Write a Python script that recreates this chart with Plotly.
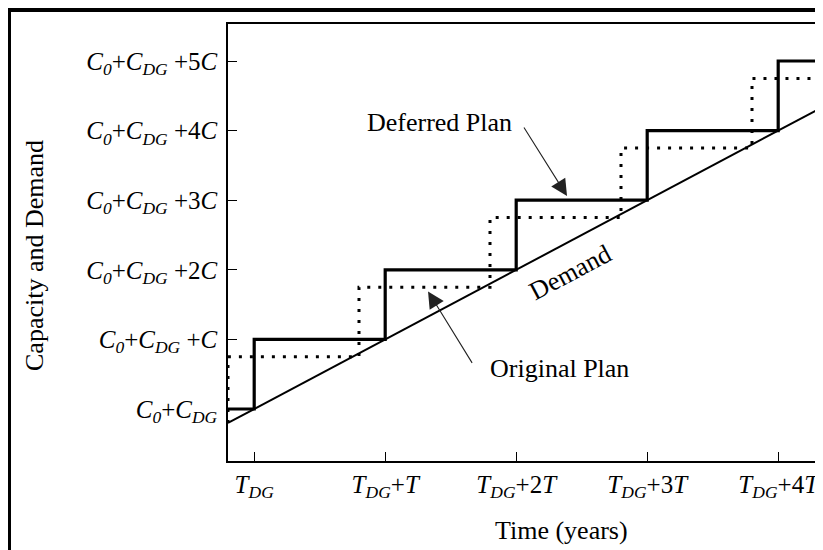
import plotly.graph_objects as go

# ---- data (x in units of T, y in units of C above C0+CDG) ----
demand_x = [0.0, 4.7]
demand_y = [-0.2, 4.5]

deferred_x = [0.0, 0.2, 1.2, 2.2, 3.2, 4.2, 4.7]
deferred_y = [0.0, 1.0, 2.0, 3.0, 4.0, 5.0, 5.0]

original_x = [0.0, 0.0, 1.0, 2.0, 3.0, 4.0, 4.7]
original_y = [-0.2, 0.75, 1.75, 2.75, 3.75, 4.75, 4.75]

x_tickvals = [0.2, 1.2, 2.2, 3.2, 4.2]
x_ticktext = ["<i>T</i><sub><i>DG</i></sub>",
              "<i>T</i><sub><i>DG</i></sub>+<i>T</i>",
              "<i>T</i><sub><i>DG</i></sub>+2<i>T</i>",
              "<i>T</i><sub><i>DG</i></sub>+3<i>T</i>",
              "<i>T</i><sub><i>DG</i></sub>+4<i>T</i>"]
y_tickvals = [0, 1, 2, 3, 4, 5]
y_ticktext = ["<i>C</i><sub><i>0</i></sub>+<i>C</i><sub><i>DG</i></sub>",
              "<i>C</i><sub><i>0</i></sub>+<i>C</i><sub><i>DG</i></sub> +<i>C</i>",
              "<i>C</i><sub><i>0</i></sub>+<i>C</i><sub><i>DG</i></sub> +2<i>C</i>",
              "<i>C</i><sub><i>0</i></sub>+<i>C</i><sub><i>DG</i></sub> +3<i>C</i>",
              "<i>C</i><sub><i>0</i></sub>+<i>C</i><sub><i>DG</i></sub> +4<i>C</i>",
              "<i>C</i><sub><i>0</i></sub>+<i>C</i><sub><i>DG</i></sub> +5<i>C</i>"]

FONT = "Liberation Serif"
OFF = 8  # page body margin: screen px = figure px + OFF

fig = go.Figure()
fig.add_trace(go.Scatter(x=demand_x, y=demand_y, mode="lines",
                         line=dict(color="black", width=2), hoverinfo="skip"))
fig.add_trace(go.Scatter(x=original_x, y=original_y, mode="lines",
                         line=dict(color="black", width=3, dash="3px,8px", shape="hv"),
                         hoverinfo="skip"))
fig.add_trace(go.Scatter(x=deferred_x, y=deferred_y, mode="lines",
                         line=dict(color="black", width=3.2, shape="hv"),
                         hoverinfo="skip"))

W, H = 823, 550
# plot area in screen pixels
sL, sT, sB = 228, 24, 461
L, T, B = sL - OFF, sT - OFF, sB - OFF
R = W
pw, ph = R - L, B - T
XS = 131.0   # px per T
YS = 69.6    # px per C
Y0 = 409 - OFF  # figure px of level 0

def px(xs):
    return (xs - OFF - L) / pw

def py(ys):
    return (B - (ys - OFF)) / ph

fig.update_layout(
    width=W, height=H,
    margin=dict(l=L, r=0, t=T, b=H - B, pad=0),
    paper_bgcolor="white", plot_bgcolor="white",
    showlegend=False,
    font=dict(family=FONT, color="black"),
    xaxis=dict(range=[0, pw / XS], showgrid=False, zeroline=False,
               showline=True, linecolor="black", linewidth=1.5, mirror=True,
               ticks="inside", ticklen=9, tickwidth=1, tickcolor="black",
               tickvals=x_tickvals, ticktext=x_ticktext,
               tickfont=dict(family=FONT, size=25, color="black"),
               ticklabelstandoff=0),
    yaxis=dict(range=[-(B - Y0) / YS, (Y0 - T) / YS], showgrid=False, zeroline=False,
               showline=True, linecolor="black", linewidth=1.5,
               ticks="inside", ticklen=9, tickwidth=1, tickcolor="black",
               tickvals=y_tickvals, ticktext=y_ticktext,
               tickfont=dict(family=FONT, size=25, color="black"),
               ticklabelstandoff=4),
)

ann = []
ann.append(dict(xref="paper", yref="paper", x=px(34), y=py(256), text="Capacity and Demand",
                showarrow=False, textangle=-90, font=dict(size=26, family=FONT),
                xanchor="center", yanchor="middle"))
ann.append(dict(xref="paper", yref="paper", x=px(561), y=py(530), text="Time (years)",
                showarrow=False, font=dict(size=26, family=FONT),
                xanchor="center", yanchor="middle"))
# text labels
ann.append(dict(x=1.618, y=4.11, text="Deferred Plan", showarrow=False,
                font=dict(size=26, family=FONT)))
ann.append(dict(x=2.534, y=0.589, text="Original Plan", showarrow=False,
                font=dict(size=26, family=FONT)))
ann.append(dict(x=2.611, y=1.968, text="Demand", showarrow=False, textangle=-28,
                font=dict(size=26, family=FONT)))
# arrows
ann.append(dict(x=2.588, y=3.06, text="", showarrow=True, ax=-44, ay=-70,
                arrowhead=2, arrowsize=3.0, arrowwidth=1.1, arrowcolor="#222"))
ann.append(dict(x=1.527, y=1.69, text="", showarrow=True, ax=45, ay=73,
                arrowhead=2, arrowsize=3.0, arrowwidth=1.1, arrowcolor="#222"))
fig.update_layout(annotations=ann)

# outer frame (top edge kept just inside the visible figure)
fig.add_shape(type="rect", xref="paper", yref="paper",
              x0=px(9), x1=px(845), y0=py(10), y1=py(580),
              line=dict(color="black", width=4), fillcolor="rgba(0,0,0,0)", layer="above")

fig.write_html("out.html")
